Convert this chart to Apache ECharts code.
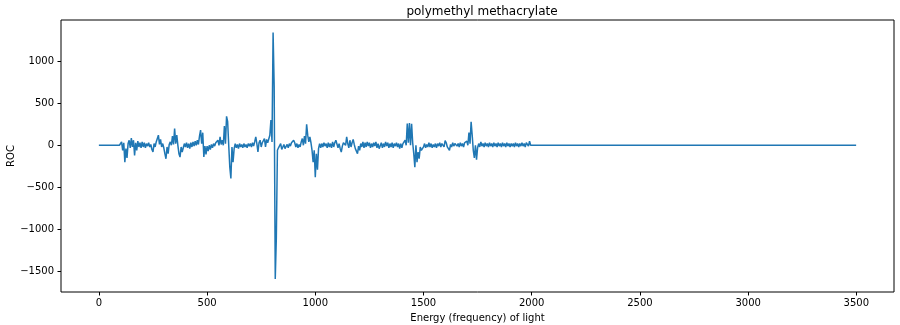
<!DOCTYPE html>
<html>
<head>
<meta charset="utf-8">
<script src="https://cdn.jsdelivr.net/npm/echarts@6/dist/echarts.min.js"></script>
<style>
  html, body { margin: 0; padding: 0; background: #fff; }
  #roc-graph { width: 900px; height: 325px; }
</style>
</head>
<body>
<div id="roc-graph"></div>
<script>
// sampled region: energy 100..1995, one sample every 5 units
var sampleStart = 100;
var sampleStep = 5;
var rocValues = [
    0,   40,  -60,   30, -200,  -40, -150,   20,   60,  -30,   85,  -20,   60, -120,   30,  -60,   50,  -20,   30,  -30,
   40,  -20,   30,  -30,   20,  -10,   30,  -20,   10,  -50,  -80,   20,  -20,   40,   60,  120,   10,   70,  -20,   20,
  -30, -100, -160,  -20, -100,   10,   40,    0,  110,   10,  200,   20,  120,    0, -100, -140,  -20,  -80,  -30,   20,
  -20,   30,  -30,   20,  -40,   30,  -20,   40,  -10,   50,    0,   60,   10,  110,  180,   20,  150, -140,  -10, -110,
  -10,  -70,    0,  -50,   10,  -30,   20,  -10,   30,   10,   60,    0,  100,   10,   60,    0,  230,   20,  345,  280,
    0, -260, -395,  -20, -200,  -40,   20,  -30,   10,  -40,   20,  -20,   10,  -30,   20,  -20,   10,  -30,   20,  -10,
   20,  -20,   30,  -10,   40,  100,   20,  -80,   30,   60,  -20,   30,   10,   80,  -20,   70,   30,   50,  120,  300,
   40, 1340,  700,-1590,-1100,  -60,  -30,  -40,   20,  -50,  -30,   10,  -40,  -20,   10,  -30,   20,  -10,   30,   10,
   60,   30,  -20,   20,  -30,   10,  -20,   40,   80,    0,  110,   20,  250,  120,   40,  100,   30,  -60, -200,  -60,
 -380, -100, -290,  -40,   20,  -30,   20,  -20,   30,  -10,   20,  -30,   30,  -20,   20,  -30,   40,  -20,   30,   60,
   40,  -30,   20,  -40,  -80,  -10,   30,   50,    0,  100,   20,  -30,   60,  -20,   30,   70,   10,  -40,  -70, -100,
  -10,  -60,   20,  -20,   40,  -30,   30,  -20,   40,  -10,   30,  -30,   20,  -20,   30,  -10,   40,  -30,   20,  -40,
  -20,   30,  -30,   20,  -20,   40,  -10,   30,  -30,   20,  -20,   30,  -30,   20,  -10,   30,  -20,   20,  -40,   20,
  -30,   20,   40,   60,    0,  260,   30,  265,    0,  255,   30, -100, -260,    0, -200,  -80, -160,  -20,  -60,  -40,
  -20,   20,  -30,   10,  -20,   30,  -20,   20,  -30,   10,  -20,   20,  -30,   20,  -10,   30,  -20,   20,   40,  -20,
   55,   30,  -20,  -40,  -60,   10,  -20,   30,  -10,   20,   40,  -10,   20,  -20,   30,  -10,   20,  -20,   30,   40,
   50,    0,  150,   20,  280,  120,  -60, -150,    0, -170,  -30,   20,  -20,   40,  -10,   20,  -20,   30,  -10,   20,
  -20,   30,  -10,   20,  -20,   30,  -10,   20,  -20,   30,  -10,   20,  -20,   30,  -10,   20,  -20,   30,  -10,   20,
  -20,   20,  -10,   20,  -20,   30,  -10,   20,  -20,   20,  -10,   30,  -10,   20,  -20,   30,   40,  -10,   50,    0
];
// flat (zero) stretches before and after the sampled region
var flatStart = [[0, 0], [95, 0]];
var flatEnd = [[2000, 0], [3499, 0]];

var xTicks = [0, 500, 1000, 1500, 2000, 2500, 3000, 3500];
var yTicks = [-1500, -1000, -500, 0, 500, 1000];

var text_title = 'polymethyl methacrylate';
var text_x_axis = 'Energy (frequency) of light';
var text_y_axis = 'ROC';
var line_color = '#1f77b4';

var roc_graph = echarts.init(document.getElementById('roc-graph'));

function render_roc_graph()
{
    var series_data = flatStart.slice();
    for (var i = 0; i < rocValues.length; i++) {
        series_data.push([sampleStart + i * sampleStep, rocValues[i]]);
    }
    series_data = series_data.concat(flatEnd);

    var tick_label = function(value) {
        return String(value).replace('-', '\u2212');
    };

    var options = {
        animation: false,
        textStyle: { fontFamily: 'DejaVu Sans' },
        title: {
            text: text_title,
            left: 477,
            textAlign: 'center',
            top: 1,
            textStyle: { fontSize: 12, fontWeight: 'normal', color: '#000', fontFamily: 'DejaVu Sans' }
        },
        grid: {
            left: 61,
            right: 6,
            top: 20,
            bottom: 33,
            outerBoundsMode: 'none',
            show: true,
            borderColor: '#000',
            borderWidth: 1
        },
        xAxis: {
            type: 'value',
            min: -175,
            max: 3674,
            name: text_x_axis,
            nameLocation: 'middle',
            nameGap: 21,
            nameTextStyle: { fontSize: 10, color: '#000' },
            splitLine: { show: false },
            axisLine: { show: false, onZero: false },
            axisTick: { show: true, length: 3.5, customValues: xTicks, lineStyle: { color: '#000' } },
            axisLabel: { fontSize: 10, color: '#000', margin: 6, customValues: xTicks, formatter: tick_label }
        },
        yAxis: {
            type: 'value',
            min: -1745,
            max: 1490,
            name: text_y_axis,
            nameLocation: 'middle',
            nameGap: 45,
            nameMoveOverlap: false,
            nameTextStyle: { fontSize: 10, color: '#000' },
            splitLine: { show: false },
            axisLine: { show: false, onZero: false },
            axisTick: { show: true, length: 3.5, customValues: yTicks, lineStyle: { color: '#000' } },
            axisLabel: { fontSize: 10, color: '#000', margin: 7, customValues: yTicks, formatter: tick_label }
        },
        series: [
            {
                type: 'line',
                data: series_data,
                showSymbol: false,
                lineStyle: { color: line_color, width: 1.5 },
                itemStyle: { color: line_color }
            }
        ]
    };

    roc_graph.setOption(options);
}

render_roc_graph();
</script>
</body>
</html>
